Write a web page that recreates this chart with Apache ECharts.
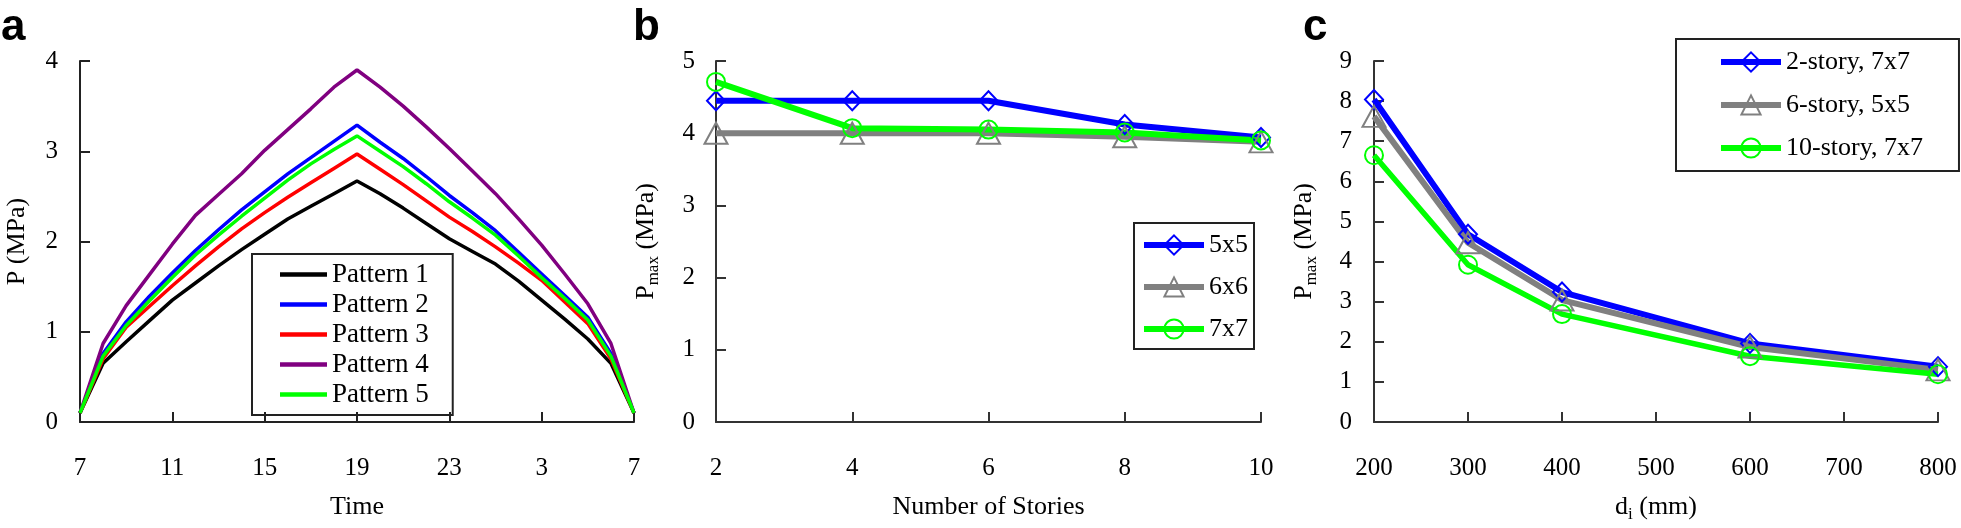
<!DOCTYPE html>
<html><head><meta charset="utf-8">
<script src="https://cdn.jsdelivr.net/npm/echarts@6/dist/echarts.min.js"></script>
<style>html,body{margin:0;padding:0;background:#fff}#c{width:1961px;height:528px}</style>
</head><body><div id="c"></div>
<script>
// ---------- Panel a data ----------
const hours = ['7','8','9','10','11','12','13','14','15','16','17','18','19','20','21','22','23','0','1','2','3','4','5','6','7'];
const pattern1 = [0.1,0.65,0.89,1.12,1.35,1.54,1.73,1.91,2.08,2.25,2.39,2.53,2.67,2.53,2.37,2.2,2.03,1.89,1.75,1.56,1.35,1.14,0.92,0.65,0.1];
const pattern2 = [0.1,0.76,1.11,1.39,1.65,1.9,2.13,2.35,2.55,2.75,2.93,3.11,3.29,3.1,2.92,2.72,2.51,2.32,2.12,1.88,1.64,1.4,1.16,0.76,0.1];
const pattern3 = [0.1,0.70,1.05,1.28,1.51,1.73,1.94,2.14,2.32,2.49,2.65,2.81,2.97,2.8,2.63,2.45,2.27,2.11,1.94,1.76,1.57,1.33,1.09,0.70,0.1];
const pattern4 = [0.1,0.87,1.29,1.63,1.97,2.29,2.52,2.75,3.01,3.24,3.47,3.71,3.9,3.71,3.5,3.27,3.03,2.78,2.53,2.25,1.96,1.64,1.31,0.87,0.1];
const pattern5 = [0.1,0.73,1.07,1.34,1.6,1.85,2.07,2.28,2.48,2.68,2.86,3.02,3.17,3.0,2.83,2.64,2.44,2.26,2.07,1.84,1.6,1.37,1.13,0.73,0.1];
const patternNames = ['Pattern 1','Pattern 2','Pattern 3','Pattern 4','Pattern 5'];
const patternColors = ['#000000','#0000ff','#ff0000','#800080','#00ff00'];

// ---------- Panel b data ----------
const stories = [2,4,6,8,10];
const b5x5 = [4.45,4.45,4.45,4.12,3.94];
const b6x6 = [4.0,4.0,4.0,3.95,3.88];
const b7x7 = [4.71,4.07,4.05,4.01,3.9];

// ---------- Panel c data ----------
const diameters = [200,300,400,600,800];
const c2story = [8.04,4.68,3.24,1.96,1.38];
const c6story = [7.62,4.47,3.04,1.87,1.3];
const c10story = [6.65,3.92,2.69,1.64,1.19];

const FONT = '"Liberation Serif","Times New Roman",serif';
const AX = '#333';
const BLUE = '#0000ff', GRAY = '#808080', GREEN = '#00ff00';
const CLEAR = 'rgba(255,255,255,0)';

function axLine(c){ return {show:true, onZero:false, lineStyle:{color:c, width:2}}; }
function axTick(c, extra){ return Object.assign({show:true, inside:true, length:10, lineStyle:{color:c, width:2}}, extra||{}); }
function axLabel(m, extra){ return Object.assign({color:'#000', fontFamily:FONT, fontSize:25, margin:m}, extra||{}); }
const nameStyle = {color:'#000', fontFamily:FONT, fontSize:26,
  rich:{s:{fontFamily:FONT, fontSize:17, color:'#000', padding:[14,0,0,0]}}};

const grids = [
  {left:80, top:61, width:554, height:361, outerBoundsMode:'none'},
  {left:716, top:61, width:545, height:361, outerBoundsMode:'none'},
  {left:1374, top:61, width:564, height:361, outerBoundsMode:'none'}
];

const xAxes = [
  {gridIndex:0, type:'category', data:hours, boundaryGap:false,
   axisLine:axLine('#222'), axisTick:axTick('#222',{interval:3}),
   axisLabel:axLabel(34,{interval:3}), splitLine:{show:false},
   name:'Time', nameLocation:'middle', nameGap:72, nameTextStyle:nameStyle},
  {gridIndex:1, type:'value', min:2, max:10, interval:2,
   axisLine:axLine(AX), axisTick:axTick(AX), axisLabel:axLabel(34), splitLine:{show:false},
   name:'Number of Stories', nameLocation:'middle', nameGap:72, nameTextStyle:nameStyle},
  {gridIndex:2, type:'value', min:200, max:800, interval:100,
   axisLine:axLine(AX), axisTick:axTick(AX), axisLabel:axLabel(34), splitLine:{show:false},
   name:'d{s|i} (mm)', nameLocation:'middle', nameGap:70, nameTextStyle:nameStyle}
];
const yAxes = [
  {gridIndex:0, type:'value', min:0, max:4, interval:1,
   axisLine:axLine('#222'), axisTick:axTick('#222'), axisLabel:axLabel(22), splitLine:{show:false},
   name:'P (MPa)', nameLocation:'middle', nameGap:50, nameTextStyle:nameStyle},
  {gridIndex:1, type:'value', min:0, max:5, interval:1,
   axisLine:axLine(AX), axisTick:axTick(AX), axisLabel:axLabel(21), splitLine:{show:false},
   name:'P{s|max} (MPa)', nameLocation:'middle', nameGap:54, nameTextStyle:nameStyle},
  {gridIndex:2, type:'value', min:0, max:9, interval:1,
   axisLine:axLine(AX), axisTick:axTick(AX), axisLabel:axLabel(22), splitLine:{show:false},
   name:'P{s|max} (MPa)', nameLocation:'middle', nameGap:54, nameTextStyle:nameStyle}
];

const series = [];
[pattern1,pattern2,pattern3,pattern4,pattern5].forEach((d,i)=>{
  series.push({type:'line', name:patternNames[i], xAxisIndex:0, yAxisIndex:0, data:d,
    symbol:'none', lineStyle:{color:patternColors[i], width:3.5},
    itemStyle:{color:patternColors[i]}, silent:true});
});
function markerSeries(name, xi, xs, ys, color, sym, size, lw){
  return {type:'line', name:name, xAxisIndex:xi, yAxisIndex:xi,
    data: xs.map((x,i)=>[x, ys[i]]),
    symbol:sym, symbolSize:size, showSymbol:true,
    lineStyle:{color:color, width:lw},
    itemStyle:{color:CLEAR, borderColor:color, borderWidth:2}, silent:true};
}
series.push(markerSeries('5x5',1,stories,b5x5,BLUE,'diamond',[18,19],6));
series.push(markerSeries('6x6',1,stories,b6x6,GRAY,'triangle',[23,21],6));
series.push(markerSeries('7x7',1,stories,b7x7,GREEN,'circle',18,6));
series.push(markerSeries('2-story, 7x7',2,diameters,c2story,BLUE,'diamond',[18,19],6));
series.push(markerSeries('6-story, 5x5',2,diameters,c6story,GRAY,'triangle',[23,21],6));
series.push(markerSeries('10-story, 7x7',2,diameters,c10story,GREEN,'circle',18,5.5));

const legTxt = (fs)=>({fontFamily:FONT, fontSize:fs, color:'#000'});
const legends = [
  {left:252, top:254, orient:'vertical', data:patternNames, icon:'rect',
   itemWidth:47, itemHeight:4.5, itemGap:3, padding:[7,24,7,28],
   borderColor:'#222', borderWidth:2, textStyle:legTxt(27), selectedMode:false},
  {left:1134, top:223, orient:'vertical', data:['5x5','6x6','7x7'],
   itemWidth:60, itemHeight:24, itemGap:16, padding:[9,6,7,7],
   lineStyle:{width:6},
   borderColor:'#222', borderWidth:2, textStyle:legTxt(26), selectedMode:false},
  {left:1676, top:39, orient:'vertical', data:['2-story, 7x7','6-story, 5x5','10-story, 7x7'],
   itemWidth:60, itemHeight:24, itemGap:17, padding:[10,36,10,42],
   lineStyle:{width:6},
   borderColor:'#222', borderWidth:2, textStyle:legTxt(26), selectedMode:false}
];

const letterFont = 'bold 44px "Liberation Sans", Arial, sans-serif';
const graphic = [
  {type:'text', left:1, top:6, style:{text:'a', font:letterFont, fill:'#000'}},
  {type:'text', left:633, top:6, style:{text:'b', font:letterFont, fill:'#000'}},
  {type:'text', left:1303, top:6, style:{text:'c', font:letterFont, fill:'#000'}}
];

const chart = echarts.init(document.getElementById('c'), null, {renderer:'canvas'});
chart.setOption({
  animation:false, backgroundColor:'#fff',
  grid:grids, xAxis:xAxes, yAxis:yAxes, series:series, legend:legends, graphic:graphic
});
</script></body></html>
